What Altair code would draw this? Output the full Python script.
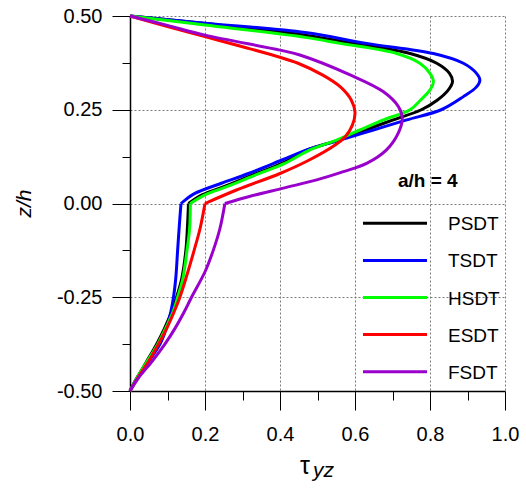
import altair as alt
import pandas as pd

# Transverse shear stress tau_yz through the thickness (a/h = 4)
series_names = ["PSDT", "TSDT", "HSDT", "ESDT", "FSDT"]
series_colors = ["#000000", "#0000FF", "#00FF00", "#FF0000", "#9900CC"]

z_psdt = [0.5, 0.48, 0.449, 0.427, 0.4, 0.374, 0.347, 0.325, 0.303, 0.276, 0.25, 0.223,
          0.196, 0.169, 0.143, 0.107, 0.079, 0.043, 0.023, 0.0, -0.066, -0.125, -0.2,
          -0.25, -0.288, -0.333, -0.375, -0.422, -0.466, -0.5]
tau_psdt = [0.0, 0.2, 0.467, 0.596, 0.747, 0.818, 0.852, 0.86, 0.849, 0.82, 0.777, 0.702,
            0.627, 0.556, 0.473, 0.405, 0.334, 0.245, 0.192, 0.156, 0.153, 0.149, 0.138,
            0.124, 0.111, 0.092, 0.071, 0.044, 0.018, 0.0]

z_tsdt = [0.5, 0.481, 0.456, 0.427, 0.4, 0.374, 0.347, 0.329, 0.311, 0.285, 0.25, 0.223,
          0.196, 0.169, 0.143, 0.116, 0.08, 0.054, 0.027, 0.005, 0.0, -0.066, -0.125,
          -0.2, -0.25, -0.288, -0.333, -0.375, -0.422, -0.466, -0.5]
tau_tsdt = [0.0, 0.2, 0.467, 0.631, 0.809, 0.889, 0.924, 0.933, 0.924, 0.889, 0.83, 0.738,
            0.649, 0.56, 0.471, 0.405, 0.316, 0.244, 0.173, 0.142, 0.136, 0.131, 0.127,
            0.122, 0.116, 0.109, 0.097, 0.08, 0.049, 0.018, 0.0]

z_hsdt = [0.5, 0.476, 0.443, 0.427, 0.4, 0.374, 0.347, 0.325, 0.303, 0.276, 0.25, 0.223,
          0.196, 0.169, 0.143, 0.107, 0.079, 0.043, 0.023, 0.0, -0.066, -0.125, -0.2,
          -0.25, -0.288, -0.333, -0.375, -0.422, -0.466, -0.5]
tau_hsdt = [0.0, 0.2, 0.467, 0.56, 0.711, 0.773, 0.8, 0.809, 0.8, 0.775, 0.747, 0.676,
            0.613, 0.551, 0.48, 0.413, 0.342, 0.253, 0.2, 0.161, 0.159, 0.152, 0.141,
            0.127, 0.115, 0.095, 0.074, 0.045, 0.018, 0.0]

z_esdt = [0.5, 0.472, 0.445, 0.418, 0.39, 0.374, 0.343, 0.311, 0.276, 0.243, 0.209, 0.178,
          0.156, 0.116, 0.08, 0.036, 0.0, -0.066, -0.125, -0.2, -0.25, -0.288, -0.333,
          -0.375, -0.422, -0.466, -0.5]
tau_esdt = [0.0, 0.1, 0.2, 0.3, 0.4, 0.448, 0.513, 0.561, 0.59, 0.6, 0.593, 0.574,
            0.547, 0.478, 0.4, 0.284, 0.2, 0.187, 0.171, 0.149, 0.133, 0.118, 0.098,
            0.076, 0.049, 0.02, 0.0]

z_fsdt = [0.5, 0.475, 0.449, 0.409, 0.396, 0.343, 0.298, 0.258, 0.227, 0.187, 0.143,
          0.107, 0.085, 0.063, 0.041, 0.018, 0.0, -0.066, -0.125, -0.182, -0.25, -0.288,
          -0.333, -0.375, -0.422, -0.466, -0.5]
tau_fsdt = [0.0, 0.1, 0.2, 0.4, 0.453, 0.587, 0.676, 0.716, 0.726, 0.715, 0.684,
            0.631, 0.569, 0.498, 0.409, 0.316, 0.253, 0.24, 0.222, 0.2, 0.164, 0.145,
            0.12, 0.093, 0.058, 0.022, 0.0]

series_z = [z_psdt, z_tsdt, z_hsdt, z_esdt, z_fsdt]
series_tau = [tau_psdt, tau_tsdt, tau_hsdt, tau_esdt, tau_fsdt]

x_ticks = [0.0, 0.1, 0.2, 0.3, 0.4, 0.5, 0.6, 0.7, 0.8, 0.9, 1.0]
y_ticks = [-0.5, -0.375, -0.25, -0.125, 0.0, 0.125, 0.25, 0.375, 0.5]

FONT = "Liberation Sans"
W, H = 375, 375

x_major = "round(datum.value * 10) % 2 == 0"
y_major = "round(datum.value * 8) % 2 == 0"

axis_common = dict(
    title=None,
    labelFont=FONT,
    labelFontSize=20,
    labelColor="#000000",
    labelOverlap=False,
    labelFlush=False,
    domainColor="#000000",
    domainWidth=1.5,
    tickColor="#000000",
    tickWidth=1,
    grid=True,
    gridColor="#7a7a7a",
    gridDash=[2, 2],
    gridWidth=1,
)

x_axis = alt.Axis(
    values=x_ticks,
    labelExpr=f"{x_major} ? format(datum.value, '.1f') : ''",
    tickSize={"condition": {"test": x_major, "value": 19}, "value": 9},
    gridOpacity={"condition": {"test": x_major, "value": 1}, "value": 0},
    labelPadding=14,
    **axis_common,
)
y_axis = alt.Axis(
    values=y_ticks,
    labelExpr=f"{y_major} ? (datum.value < 0 ? '-' : '') + format(abs(datum.value), '.2f') : ''",
    tickSize={"condition": {"test": y_major, "value": 18}, "value": 8},
    gridOpacity={"condition": {"test": y_major, "value": 1}, "value": 0},
    labelPadding=10,
    **axis_common,
)

x_scale = alt.Scale(domain=[0, 1], nice=False, zero=False)
y_scale = alt.Scale(domain=[-0.5, 0.5], nice=False, zero=False)

layers = []
for name, color, zs, ts in zip(series_names, series_colors, series_z, series_tau):
    rows = []
    # each profile is smooth within a layer; the kink sits at the mid-plane z = 0
    for i, (z, t) in enumerate(zip(zs, ts)):
        if z >= 0:
            rows.append({"z": z, "tau": t, "i": i, "part": "upper"})
        if z <= 0:
            rows.append({"z": z, "tau": t, "i": i, "part": "lower"})
    df = pd.DataFrame(rows)
    layers.append(
        alt.Chart(df)
        .mark_line(color=color, strokeWidth=3, strokeJoin="round",
                   interpolate="catmull-rom")
        .encode(
            x=alt.X("tau:Q", scale=x_scale, axis=x_axis),
            y=alt.Y("z:Q", scale=y_scale, axis=y_axis),
            detail="part:N",
            order=alt.Order("i:Q"),
        )
    )

# Legend drawn inside the plot area
for k, (name, color) in enumerate(zip(series_names, series_colors)):
    row = pd.DataFrame({"theory": [name]})
    ypix = 207.3 + 37.1 * k
    layers.append(
        alt.Chart(row)
        .mark_rule(color=color, strokeWidth=3)
        .encode(x=alt.value(233), x2=alt.value(297), y=alt.value(ypix))
    )
    layers.append(
        alt.Chart(row)
        .mark_text(align="left", baseline="middle", font=FONT, fontSize=19, color="#000000")
        .encode(x=alt.value(318), y=alt.value(ypix + 1), text="theory:N")
    )

one = pd.DataFrame({"k": [0]})

layers.append(
    alt.Chart(one)
    .mark_text(text="a/h = 4", align="left", baseline="middle", font=FONT,
               fontSize=19, fontWeight="bold", color="#000000")
    .encode(x=alt.value(268), y=alt.value(165))
)
# axis titles
layers.append(
    alt.Chart(one)
    .mark_text(text="z/h", align="center", baseline="middle", angle=270, font=FONT,
               fontSize=21, fontStyle="italic", color="#000000")
    .encode(x=alt.value(-105), y=alt.value(187.5))
)
layers.append(
    alt.Chart(one)
    .mark_text(text="τ", align="left", baseline="alphabetic", font=FONT,
               fontSize=25, color="#000000")
    .encode(x=alt.value(170), y=alt.value(458))
)
layers.append(
    alt.Chart(one)
    .mark_text(text="yz", align="left", baseline="alphabetic", font=FONT,
               fontSize=21, fontStyle="italic", color="#000000")
    .encode(x=alt.value(183), y=alt.value(461))
)

chart = (
    alt.layer(*layers)
    .properties(
        width=W,
        height=H,
        padding={"left": 130, "top": 16, "right": 21, "bottom": 97},
        autosize=alt.AutoSizeParams(type="none"),
        background="#ffffff",
    )
    .configure_view(stroke=None)
)

chart.save("out.html", embed_options={"renderer": "svg", "actions": False})
